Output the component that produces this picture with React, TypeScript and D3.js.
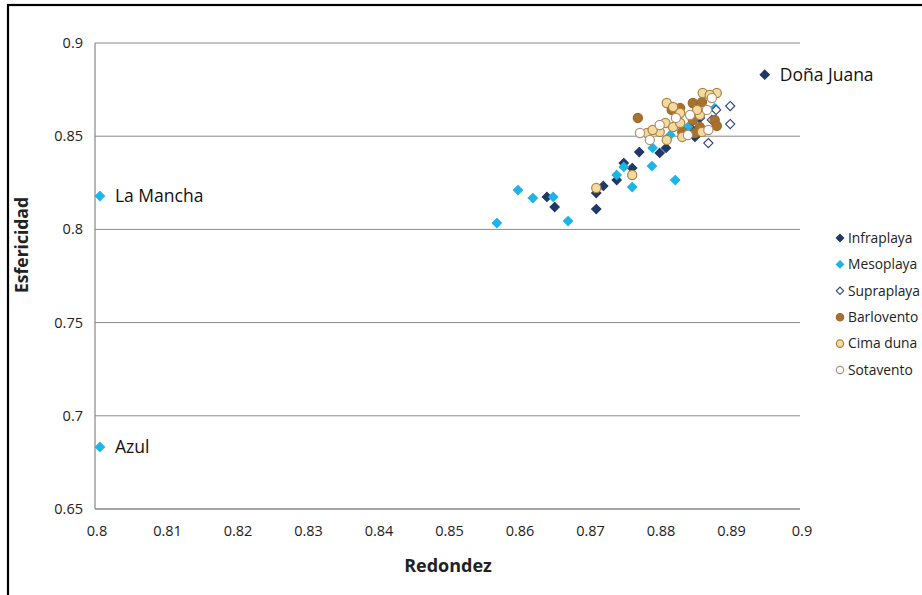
import React from "react";
import * as d3 from "d3";

const xTicks = [0.8, 0.81, 0.82, 0.83, 0.84, 0.85, 0.86, 0.87, 0.88, 0.89, 0.9];
const yTicks = [0.65, 0.7, 0.75, 0.8, 0.85, 0.9];
const xTickLabels = ["0.8", "0.81", "0.82", "0.83", "0.84", "0.85", "0.86", "0.87", "0.88", "0.89", "0.9"];
const yTickLabels = ["0.65", "0.7", "0.75", "0.8", "0.85", "0.9"];

const infraplaya: [number, number][] = [
  [0.895, 0.883], [0.8641, 0.8174], [0.8652, 0.812], [0.8711, 0.8109], [0.8711, 0.8195],
  [0.8721, 0.8233], [0.874, 0.8265], [0.875, 0.8356], [0.8762, 0.8329], [0.8772, 0.8415],
  [0.8801, 0.841], [0.881, 0.8437], [0.8851, 0.8496], [0.8844, 0.8544], [0.8858, 0.8598],
];
const mesoplaya: [number, number][] = [
  [0.8007, 0.8179], [0.8007, 0.6833], [0.857, 0.8034], [0.86, 0.8211], [0.8621, 0.8168],
  [0.865, 0.8174], [0.8671, 0.8045], [0.874, 0.8292], [0.875, 0.8335], [0.8762, 0.8227],
  [0.879, 0.834], [0.8823, 0.8265], [0.8791, 0.8437], [0.8816, 0.8506], [0.8841, 0.8549],
  [0.8879, 0.8651], [0.883, 0.8576],
];
const supraplaya: [number, number][] = [
  [0.8901, 0.8662], [0.8901, 0.8565], [0.887, 0.8463], [0.8881, 0.8641], [0.8875, 0.8587],
  [0.8858, 0.8544], [0.8851, 0.8571],
];
const barlovento: [number, number][] = [
  [0.877, 0.8598], [0.8848, 0.8678], [0.8861, 0.8683], [0.883, 0.8651], [0.8879, 0.8587],
  [0.8882, 0.8555], [0.8848, 0.8587], [0.8833, 0.8523], [0.8851, 0.8517], [0.8858, 0.8549],
  [0.8818, 0.8641],
];
const cimaDuna: [number, number][] = [
  [0.8811, 0.8678], [0.882, 0.8657], [0.883, 0.8624], [0.8809, 0.8571], [0.8801, 0.8523],
  [0.8783, 0.8517], [0.8791, 0.8533], [0.8833, 0.8496], [0.8858, 0.8614], [0.8862, 0.8732],
  [0.8882, 0.8732], [0.8872, 0.8721], [0.8854, 0.8641], [0.882, 0.8549], [0.883, 0.8571],
  [0.8861, 0.8523], [0.8811, 0.848], [0.8711, 0.8222], [0.8762, 0.8292],
];
const sotavento: [number, number][] = [
  [0.8875, 0.8705], [0.8868, 0.8641], [0.8844, 0.8614], [0.8801, 0.856], [0.8841, 0.8506],
  [0.8824, 0.8598], [0.887, 0.8533], [0.8787, 0.848], [0.8773, 0.8517],
];

const seriesNames = ["Infraplaya", "Mesoplaya", "Supraplaya", "Barlovento", "Cima duna", "Sotavento"];
const seriesData = [infraplaya, mesoplaya, supraplaya, barlovento, cimaDuna, sotavento];

const annotations = [
  { label: "Doña Juana", x: 0.895, y: 0.883 },
  { label: "La Mancha", x: 0.8007, y: 0.8179 },
  { label: "Azul", x: 0.8007, y: 0.6833 },
];

type Style = { shape: "diamond" | "circle"; fill: string; stroke: string };
const styles: Style[] = [
  { shape: "diamond", fill: "#1f3864", stroke: "#1f3864" },
  { shape: "diamond", fill: "#1db4e8", stroke: "#1db4e8" },
  { shape: "diamond", fill: "#ffffff", stroke: "#2f4075" },
  { shape: "circle", fill: "#a8712f", stroke: "#9a6a2c" },
  { shape: "circle", fill: "#f4d9a0", stroke: "#a98540" },
  { shape: "circle", fill: "#ffffff", stroke: "#b09070" },
];

const FONT = "'Open Sans', 'Noto Sans', sans-serif";

function Marker({ s, cx, cy, size = 1 }: { s: Style; cx: number; cy: number; size?: number }) {
  if (s.shape === "diamond") {
    const r = 4.6 * size;
    return (
      <path
        d={`M${cx},${cy - r}L${cx + r},${cy}L${cx},${cy + r}L${cx - r},${cy}Z`}
        fill={s.fill}
        stroke={s.stroke}
        strokeWidth={1.1}
      />
    );
  }
  return <circle cx={cx} cy={cy} r={4.6 * size} fill={s.fill} stroke={s.stroke} strokeWidth={1.2} />;
}

export default function App() {
  const W = 922, H = 595;
  const x = d3.scaleLinear().domain([0.8, 0.9]).range([95, 800]);
  const y = d3.scaleLinear().domain([0.65, 0.9]).range([509, 43]);

  return (
    <div style={{ position: "absolute", left: 0, top: 0 }}>
      <svg width={W} height={H} style={{ display: "block", background: "#fff" }}>
        <rect x={0} y={0} width={W} height={H} fill="#fff" />
        <rect x={8} y={5} width={W + 20} height={H + 20} fill="none" stroke="#000" strokeWidth={2.2} />
        {yTicks.map((t) => (
          <line key={t} x1={x(0.8)} x2={x(0.9)} y1={y(t)} y2={y(t)} stroke="#8a8a8a" strokeWidth={1} />
        ))}
        <line x1={x(0.8)} x2={x(0.8)} y1={y(0.9)} y2={y(0.65)} stroke="#868686" strokeWidth={1.2} />
        <line x1={x(0.8)} x2={x(0.9)} y1={y(0.65)} y2={y(0.65)} stroke="#868686" strokeWidth={1.2} />
        {yTicks.map((t, i) => (
          <text key={t} x={83} y={y(t)} dy="0.35em" textAnchor="end" fontSize={14.5} fontFamily={FONT} fill="#222">
            {yTickLabels[i]}
          </text>
        ))}
        {xTicks.map((t, i) => (
          <text key={t} x={x(t) + 2} y={531} dy="0.35em" textAnchor="middle" fontSize={14.5} fontFamily={FONT} fill="#222">
            {xTickLabels[i]}
          </text>
        ))}
        <text x={448} y={566} dy="0.35em" textAnchor="middle" fontSize={18} fontWeight="bold" fontFamily={FONT} fill="#222">
          Redondez
        </text>
        <text
          transform={`translate(22,245) rotate(-90)`}
          dy="0.35em"
          textAnchor="middle"
          fontSize={17.5}
          fontWeight="bold"
          fontFamily={FONT}
          fill="#222"
        >
          Esfericidad
        </text>
        {seriesData.map((data, si) => (
          <g key={seriesNames[si]}>
            {data.map(([vx, vy], i) => (
              <Marker key={i} s={styles[si]} cx={x(vx)} cy={y(vy)} />
            ))}
          </g>
        ))}
        {annotations.map((a) => (
          <text key={a.label} x={x(a.x) + 15} y={y(a.y)} dy="0.35em" fontSize={17.5} fontFamily={FONT} fill="#111">
            {a.label}
          </text>
        ))}
        {seriesNames.map((n, i) => {
          const ly = 238 + i * 26.4;
          return (
            <g key={n}>
              <Marker s={styles[i]} cx={840} cy={ly} size={0.8} />
              <text x={848} y={ly} dy="0.35em" fontSize={13.8} fontFamily={FONT} fill="#222">
                {n}
              </text>
            </g>
          );
        })}
      </svg>
    </div>
  );
}
